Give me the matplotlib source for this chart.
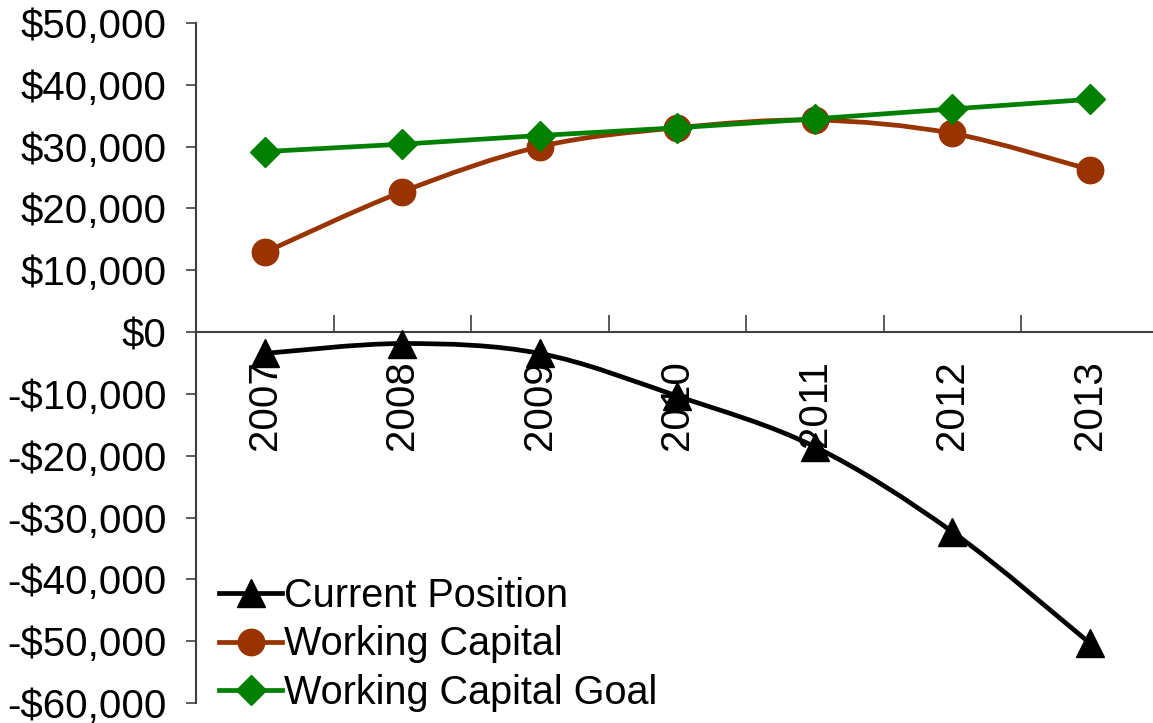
import matplotlib
matplotlib.use("Agg")
import matplotlib.pyplot as plt
from matplotlib.path import Path
from matplotlib.patches import PathPatch
from matplotlib.lines import Line2D
from matplotlib.ticker import FuncFormatter, FixedLocator
import numpy as np

plt.rcParams['font.family'] = ['Liberation Sans', 'DejaVu Sans']

years = ['2007', '2008', '2009', '2010', '2011', '2012', '2013']
current_position = [-3450, -1850, -3450, -10350, -18550, -32300, -50300]
working_capital = [12900, 22700, 30000, 33050, 34300, 32150, 26300]
working_capital_goal = [29200, 30400, 31800, 33050, 34500, 36100, 37650]


def smooth_path(xs, ys):
    # excel-style smoothed line: cubic bezier, catmull-rom control points
    pts = np.column_stack([xs, ys]).astype(float)
    n = len(pts)
    verts = [pts[0]]
    codes = [Path.MOVETO]
    for i in range(n - 1):
        p0 = pts[i - 1] if i > 0 else pts[i]
        p1 = pts[i]
        p2 = pts[i + 1]
        p3 = pts[i + 2] if i + 2 < n else pts[i + 1]
        c1 = p1 + (p2 - p0) / 6.0
        c2 = p2 - (p3 - p1) / 6.0
        verts += [c1, c2, p2]
        codes += [Path.CURVE4] * 3
    return Path(verts, codes)


fig = plt.figure(figsize=(11.53, 7.23), dpi=100)
ax = fig.add_axes([196 / 1153, 1 - 703 / 723, (1158.5 - 196) / 1153, 680 / 723])

x = np.arange(len(years))
lw = 3.4
fs = 29
series = [
    (current_position, 'black', '^', 19.5, 'Current Position', True),
    (working_capital, '#993300', 'o', 19, 'Working Capital', True),
    (working_capital_goal, '#008000', 'D', 15, 'Working Capital Goal', False),
]
handles = []
for vals, col, mk, ms, lab, smooth in series:
    if smooth:
        ax.add_patch(PathPatch(smooth_path(x, vals), facecolor='none', edgecolor=col,
                               lw=lw, zorder=3, capstyle='round', joinstyle='round'))
    else:
        ax.plot(x, vals, color=col, lw=lw, zorder=3)
    ax.plot(x, vals, linestyle='none', marker=mk, ms=ms, color=col, zorder=4)
    handles.append(Line2D([], [], color=col, lw=lw, marker=mk, ms=ms, label=lab))

ax.set_xlim(-0.5, 6.5)
ax.set_ylim(-60000, 50000)
ax.set_yticks(np.arange(-60000, 50001, 10000))
ax.yaxis.set_major_formatter(FuncFormatter(
    lambda v, p: ('-$' if v < 0 else '$') + f'{abs(int(v)):,}'))
ax.tick_params(axis='y', labelsize=fs, length=7, width=1.2, color='#404040', pad=14)

ax.spines['top'].set_visible(False)
ax.spines['right'].set_visible(False)
ax.spines['left'].set_color('#404040')
ax.spines['left'].set_linewidth(1.5)
ax.spines['bottom'].set_position(('data', 0))
ax.spines['bottom'].set_color('#404040')
ax.spines['bottom'].set_linewidth(1.5)

ax.xaxis.set_major_locator(FixedLocator(np.arange(0.5, 6.5, 1.0)))
ax.xaxis.set_minor_locator(FixedLocator(x))
ax.set_xticklabels([], minor=False)
ax.set_xticklabels(years, minor=True, rotation=90)
ax.tick_params(axis='x', which='major', direction='in', length=12, width=1.2, color='#404040')
ax.tick_params(axis='x', which='minor', length=0, labelsize=fs, pad=20)

leg = fig.legend(handles=handles, loc='lower left', bbox_to_anchor=(203 / 1153, -5 / 723),
                 frameon=False, fontsize=28.5, handlelength=1.6, handletextpad=0.05,
                 labelspacing=0.27, borderaxespad=0)
leg.set_zorder(6)

fig.savefig('out.png', dpi=100)
